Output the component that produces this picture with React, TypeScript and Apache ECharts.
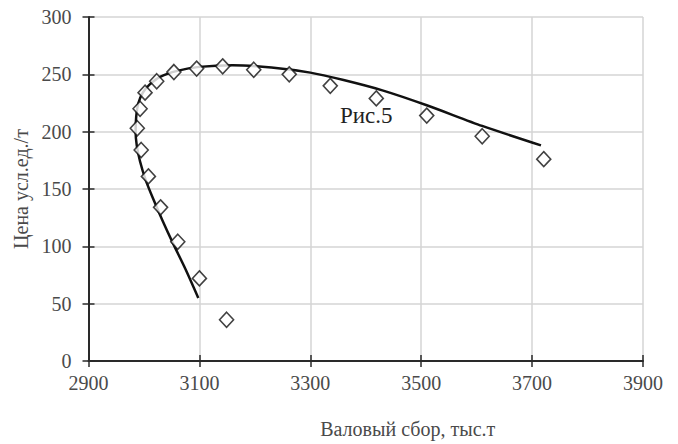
import React, { useEffect, useRef } from "react";
import * as echarts from "echarts";

const xTicks = { min: 2900, max: 3900, interval: 200 };
const yTicks = { min: 0, max: 300, interval: 50 };

const observedX = [3149, 3100, 3061, 3030, 3008, 2995, 2988, 2993, 3002, 3023, 3054, 3095, 3142, 3198, 3262, 3336, 3419, 3510, 3610, 3721];
const observedY = [36, 72, 104, 134, 161, 184, 203, 220, 234, 244, 252, 255, 257, 254, 250, 240, 229, 214, 196, 176];

const curveX = [3098, 3075, 3052, 3033, 3017, 3003, 2993, 2987, 2985, 2986, 2990, 2998, 3010, 3030, 3060, 3100, 3160, 3230, 3300, 3360, 3430, 3510, 3610, 3716];
const curveY = [55, 80, 103, 123, 141, 158, 174, 188, 200, 213, 225, 234, 241, 248, 253, 256.5, 258, 256, 251.5, 245, 236, 223, 205, 188];

const xTitle = "Валовый сбор, тыс.т";
const yTitle = "Цена усл.ед./т";
const annotation = "Рис.5";

const FONT = "'Liberation Serif', 'Times New Roman', serif";
const TEXT = "#4a4a4a";
const AXIS = "#2a2a2a";

export default function App() {
  const ref = useRef<HTMLDivElement>(null);
  useEffect(() => {
    if (!ref.current) return;
    const chart = echarts.init(ref.current, null, { renderer: "svg" });
    const label = (margin: number) => ({
      color: TEXT,
      fontFamily: FONT,
      fontSize: 20,
      margin,
      formatter: (v: number) => String(v),
    });
    const baseAxis = (extra: any) => ({
      type: "value",
      axisLine: { show: true, lineStyle: { color: AXIS, width: 2 } },
      axisTick: { show: true, length: 6, lineStyle: { color: AXIS, width: 1.5 } },
      splitLine: { show: true, lineStyle: { color: "#d4d4d4", width: 1.5 } },
      ...extra,
    });
    const innerAxis = (extra: any) => ({
      type: "value",
      axisLine: { show: false },
      axisTick: { show: true, inside: true, length: 6, lineStyle: { color: AXIS, width: 1.5 } },
      axisLabel: { show: false },
      splitLine: { show: false },
      ...extra,
    });
    chart.setOption({
      animation: false,
      backgroundColor: "#ffffff",
      textStyle: { fontFamily: FONT },
      grid: { left: 88.5, right: 35, top: 17, bottom: 82, containLabel: false },
      xAxis: [
        baseAxis({
          ...xTicks,
          position: "bottom",
          name: xTitle,
          nameLocation: "middle",
          nameGap: 58,
          nameTextStyle: { color: TEXT, fontFamily: FONT, fontSize: 20, padding: [0, 0, 0, 84] },
          axisLabel: label(12),
        }),
        innerAxis({ ...xTicks, position: "bottom" }),
      ],
      yAxis: [
        baseAxis({
          ...yTicks,
          position: "left",
          name: yTitle,
          nameLocation: "middle",
          nameGap: 54,
          nameRotate: 90,
          nameTextStyle: { color: TEXT, fontFamily: FONT, fontSize: 20 },
          axisLabel: label(17),
        }),
        innerAxis({ ...yTicks, position: "left" }),
      ],
      series: [
        {
          type: "line",
          xAxisIndex: 0,
          yAxisIndex: 0,
          data: curveX.map((x, i) => [x, curveY[i]]),
          smooth: 0.25,
          showSymbol: false,
          lineStyle: { color: "#111", width: 2.5 },
          z: 2,
        },
        {
          type: "scatter",
          xAxisIndex: 0,
          yAxisIndex: 0,
          data: observedX.map((x, i) => [x, observedY[i]]),
          symbol: "diamond",
          symbolSize: [14, 15],
          itemStyle: { color: "#ffffff", borderColor: "#111", borderWidth: 1.6 },
          z: 3,
        },
      ],
      graphic: [
        {
          type: "text",
          left: 340,
          top: 104,
          style: { text: annotation, fontFamily: FONT, fontSize: 23, fill: "#222" },
        },
      ],
    });
    return () => chart.dispose();
  }, []);
  return <div ref={ref} style={{ width: 678, height: 444, position: "absolute", left: 0, top: 0 }} />;
}
